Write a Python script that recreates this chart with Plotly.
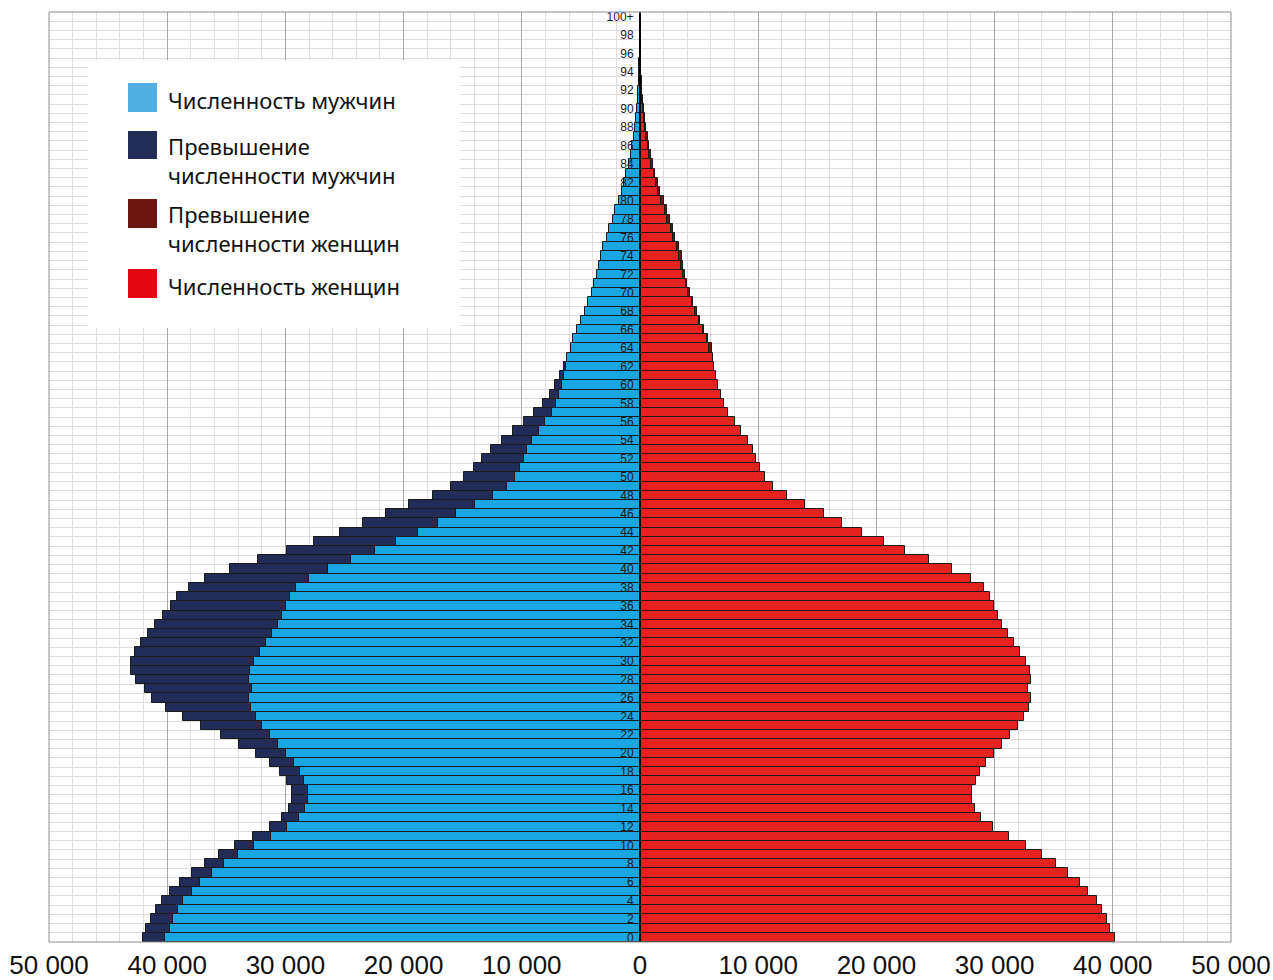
import numpy as np
import plotly.graph_objects as go

# ---------------- data ----------------
ages = list(range(0, 101))

men = [42090, 41760, 41400, 40970, 40470, 39760, 38890, 37930, 36800, 35620,
       34230, 32750, 31300, 30270, 29670, 29420, 29480, 29880, 30450, 31300,
       32480, 33930, 35480, 37170, 38700, 40140, 41320, 41910, 42680, 43100,
       43100, 42760, 42220, 41660, 41010, 40390, 39710, 39160, 38190, 36830,
       34720, 32350, 29890, 27580, 25400, 23450, 21510, 19530, 17530, 15980,
       14880, 14030, 13350, 12620, 11690, 10750, 9820, 8950, 8210, 7620,
       7170, 6750, 6420, 6200, 5800, 5700, 5350, 5000, 4620, 4380,
       4100, 3900, 3670, 3500, 3330, 3100, 2820, 2600, 2320, 2090,
       1800, 1550, 1380, 1150, 950, 800, 650, 520, 420, 340,
       260, 190, 140, 100, 70, 50, 35, 25, 15, 10, 15]

women = [40220, 39800, 39540, 39120, 38700, 37930, 37260, 36240, 35220, 34010,
         32660, 31190, 29860, 28870, 28310, 28110, 28110, 28420, 28760, 29300,
         29950, 30620, 31300, 31980, 32490, 32880, 33050, 32850, 33050, 33000,
         32630, 32120, 31610, 31130, 30650, 30260, 29920, 29640, 29070, 28030,
         26360, 24440, 22440, 20660, 18820, 17130, 15550, 13940, 12420, 11230,
         10580, 10190, 9850, 9540, 9140, 8580, 8020, 7480, 7140, 6830,
         6600, 6460, 6300, 6200, 6050, 5790, 5420, 5080, 4800, 4460,
         4230, 4010, 3810, 3670, 3530, 3300, 2990, 2770, 2540, 2310,
         2030, 1700, 1520, 1280, 1100, 950, 800, 650, 520, 420,
         330, 250, 180, 130, 90, 60, 40, 25, 15, 10, 15]

age_tick_values = list(range(0, 101, 2))
age_tick_labels = [str(a) if a < 100 else "100+" for a in age_tick_values]

x_tick_values = [-50000, -40000, -30000, -20000, -10000, 0,
                 10000, 20000, 30000, 40000, 50000]
x_tick_labels = ["50 000", "40 000", "30 000", "20 000", "10 000", "0",
                 "10 000", "20 000", "30 000", "40 000", "50 000"]

legend_names = ["Численность мужчин",
                "Превышение<br>численности мужчин",
                "Превышение<br>численности женщин",
                "Численность женщин"]

# ---------------- derived ----------------
men_a = np.array(men, dtype=float)
women_a = np.array(women, dtype=float)
common = np.minimum(men_a, women_a)
men_excess = men_a - common
women_excess = women_a - common


def nz(arr):
    return [None if v == 0 else float(v) for v in arr]


C_LBLUE = "#1AA6E1"
C_NAVY = "#232B57"
C_DRED = "#6B1611"
C_RED = "#E4221F"
OUTLINE = dict(color="#1a1a1a", width=1)

fig = go.Figure()
fig.add_trace(go.Bar(y=ages, x=list(-common), orientation="h", name=legend_names[0],
                     marker=dict(color=C_LBLUE, line=OUTLINE), showlegend=False))
fig.add_trace(go.Bar(y=ages, x=nz(-men_excess), orientation="h", name=legend_names[1],
                     marker=dict(color=C_NAVY, line=OUTLINE), showlegend=False))
fig.add_trace(go.Bar(y=ages, x=list(common), orientation="h", name=legend_names[3],
                     marker=dict(color=C_RED, line=OUTLINE), showlegend=False))
fig.add_trace(go.Bar(y=ages, x=nz(women_excess), orientation="h", name=legend_names[2],
                     marker=dict(color=C_DRED, line=OUTLINE), showlegend=False))

# ---------------- layout ----------------
W, H = 1273, 980
PL, PR, PT, PB = 49, 1231, 12, 942          # plot area in window pixels
ML, MR, MT, MB = PL, W - PR, PT, H - PB
PW, PH = PR - PL, PB - PT


def px(xp):
    return (xp - PL) / PW


def py(yp):
    return (PB - yp) / PH


shapes = [
    dict(type="rect", xref="paper", yref="paper", x0=0, x1=1, y0=0, y1=1,
         line=dict(color="#8c8c8c", width=1), fillcolor="rgba(0,0,0,0)", layer="above"),
    dict(type="rect", xref="paper", yref="paper", x0=px(88), x1=px(460),
         y0=py(328), y1=py(60), line=dict(width=0), fillcolor="white", layer="above"),
]
annotations = []
legend_font = dict(family="Noto Sans, Lato, sans-serif", size=22, color="#111111")
legend_rows = [
    ("#52AEE3", 83, 112, legend_names[0], 100),
    (C_NAVY, 131, 159, legend_names[1], 160.5),
    (C_DRED, 199, 228, legend_names[2], 228.5),
    ("#E30613", 269, 298, legend_names[3], 286),
]
for color, y0, y1, text, yc in legend_rows:
    shapes.append(dict(type="rect", xref="paper", yref="paper", x0=px(128), x1=px(157),
                       y0=py(y1), y1=py(y0), line=dict(width=0), fillcolor=color,
                       layer="above"))
    annotations.append(dict(xref="paper", yref="paper", x=px(166), y=py(yc),
                            xanchor="left", yanchor="middle", align="left", text=text,
                            showarrow=False, font=legend_font))

fig.update_layout(
    width=W, height=H,
    margin=dict(l=ML, r=MR, t=MT, b=MB, autoexpand=False),
    barmode="relative",
    bargap=0,
    paper_bgcolor="white",
    plot_bgcolor="white",
    showlegend=False,
    shapes=shapes,
    annotations=annotations,
    xaxis=dict(
        range=[-50000, 50000], automargin=False,
        tickmode="array", tickvals=x_tick_values, ticktext=x_tick_labels,
        tickfont=dict(family="Liberation Sans, Arial", size=26, color="#111111"),
        ticks="", ticklabelstandoff=5, ticklabeloverflow="allow",
        showgrid=True, gridcolor="#a8a8a8", gridwidth=1,
        minor=dict(tickmode="array", tickvals=list(range(-50000, 50001, 2000)),
                   showgrid=True, gridcolor="#dedede", gridwidth=1),
        zeroline=False, showline=False,
        fixedrange=True,
    ),
    yaxis=dict(
        range=[-0.5, 100.5], automargin=False,
        anchor="free", position=0.5,
        tickmode="array", tickvals=age_tick_values, ticktext=age_tick_labels,
        tickfont=dict(family="Liberation Sans, Arial", size=12, color="#1a1a1a"),
        ticks="", ticklabelstandoff=3,
        showgrid=False,
        minor=dict(tickmode="array", tickvals=[a - 0.5 for a in range(0, 102)],
                   showgrid=True, gridcolor="#dcdcdc", gridwidth=1),
        showline=True, linecolor="#000000", linewidth=2,
        zeroline=False, layer="above traces",
        fixedrange=True,
    ),
)

fig.write_html("out.html",
               config={"displayModeBar": False},
               post_script="document.body.style.margin='0';"
                           "document.body.style.overflow='hidden';")
